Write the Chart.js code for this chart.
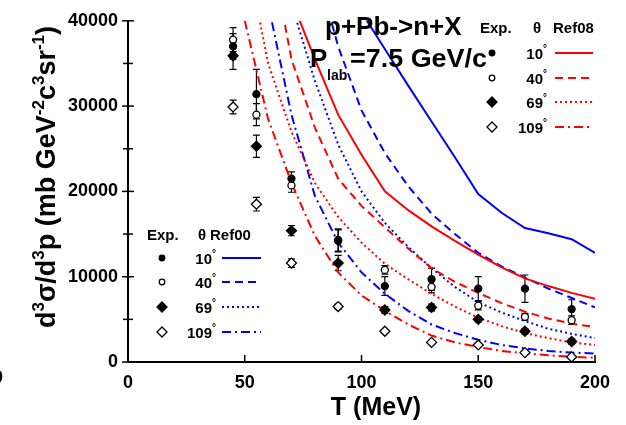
<!DOCTYPE html>
<html><head><meta charset="utf-8">
<script src="https://cdn.jsdelivr.net/npm/chart.js@4.4.0/dist/chart.umd.min.js"></script>
<style>html,body{margin:0;padding:0;background:#fff;overflow:hidden}#wrap{width:626px;height:425px;position:relative}</style>
</head><body><div id="wrap"><canvas id="c" width="626" height="425"></canvas></div>
<script>
// ---- data ----
const T_exp = [45,55,70,90,110,130,150,170,190];
const exp10  = [37000,31400,21500,14200,8900,9700,8600,8600,6200];
const err10  = [1500,2900,800,1300,1100,1300,1400,1600,1100];
const exp40  = [37800,29000,20700,14300,10800,8800,6600,5300,4900];
const err40  = [1400,1300,800,1300,500,700,500,400,500];
const exp69  = [35900,25300,15400,11600,6100,6400,5000,3600,2400];
const err69  = [1600,1300,600,900,400,400,300,300,300];
const exp109 = [29900,18500,11600,6500,3600,2300,2000,1100,600];
const err109 = [800,800,500,300,200,200,200,200,200];

const T_model = [50,60,70,80,90,100,110,120,130,140,150,160,170,180,190,200];
const ref08_10  = [null,null,42500,35500,29000,24300,20000,17800,15900,14200,12600,11100,9800,8900,8100,7400];
const ref08_40  = [null,50000,35500,27500,21500,18300,15800,13300,11000,9400,8100,6900,5900,5100,4500,4100];
const ref08_69  = [49000,35000,27000,21000,17000,14000,11500,9700,8000,6500,5200,4200,3400,2800,2300,2000];
const ref08_109 = [40000,28500,21000,14800,10500,7800,6000,4400,3100,2300,1750,1300,1000,800,600,500];
const ref00_10  = [null,null,null,null,null,41000,36700,32400,28200,24000,19700,17500,15700,15100,14400,12800];
const ref00_40  = [null,null,null,47000,37000,29500,24500,20600,17400,15000,12800,11200,9900,8600,7500,6400];
const ref00_69  = [null,null,42000,33000,25500,20000,16300,13500,11000,8800,7000,5800,4800,3900,3300,2800];
const ref00_109 = [null,42000,29000,19500,14000,10500,8000,6000,4400,3400,2600,2000,1600,1300,1100,1000];

const xTicks = [0,50,100,150,200];
const yTicks = [0,10000,20000,30000,40000];
const angleLabels = ['10','40','69','109'];

// ---- helpers ----
const RED='#ff0000', BLUE='#0000ff';
const DASH={solid:[],dashed:[8,5],dotted:[2,3],dashdot:[9,4,2,4]};
const styles=['solid','dashed','dotted','dashdot'];
const FONT='"Liberation Sans", Arial, sans-serif';
function pts(xs,ys){const o=[];xs.forEach((x,i)=>{if(ys[i]!==null)o.push({x:x,y:ys[i]});});return o;}
function marker(label,ys,style,r,fill){
  return {label:label,data:pts(T_exp,ys),showLine:false,pointStyle:style,pointRadius:r,
    pointBackgroundColor:fill?'#000':'#fff',pointBorderColor:'#000',pointBorderWidth:1.3};
}
function curve(label,ys,color,st){
  return {label:label,data:pts(T_model,ys),showLine:true,borderColor:color,borderWidth:2,
    borderDash:DASH[st],pointRadius:0,fill:false,tension:0};
}
const expSets=[[exp10,err10],[exp40,err40],[exp69,err69],[exp109,err109]];

function drawSymbol(ctx,i,x,y){
  ctx.save();ctx.lineWidth=1.3;ctx.strokeStyle='#000';ctx.fillStyle=(i%2===0)?'#000':'#fff';
  ctx.beginPath();
  if(i<2){ctx.arc(x,y,2.8,0,Math.PI*2);}
  else{const r=5;ctx.moveTo(x,y-r);ctx.lineTo(x+r,y);ctx.lineTo(x,y+r);ctx.lineTo(x-r,y);ctx.closePath();}
  ctx.fill();ctx.stroke();ctx.restore();
}
function rich(ctx,parts,x,y,size,align,ratio){
  ratio=ratio||0.62;
  const big='bold '+size+'px '+FONT, small='bold '+Math.round(size*ratio)+'px '+FONT;
  let w=0;parts.forEach(p=>{ctx.font=p[1]==='n'?big:small;w+=ctx.measureText(p[0]).width;});
  let cx=align==='center'?x-w/2:(align==='right'?x-w:x);
  parts.forEach(p=>{ctx.font=p[1]==='n'?big:small;
    const dy=p[1]==='sup'?-size*0.42:(p[1]==='sub'?size*0.3:0);
    ctx.fillText(p[0],cx,y+dy);cx+=ctx.measureText(p[0]).width;});
}

const deco={
  id:'deco',
  beforeDatasetsDraw(chart){
    const ctx=chart.ctx,xs=chart.scales.x,ys=chart.scales.y;
    ctx.save();ctx.strokeStyle='#000';ctx.lineWidth=1.2;
    expSets.forEach(([v,e])=>{
      T_exp.forEach((t,i)=>{
        const px=xs.getPixelForValue(t),y1=ys.getPixelForValue(v[i]+e[i]),y2=ys.getPixelForValue(v[i]-e[i]);
        ctx.beginPath();ctx.moveTo(px,y1);ctx.lineTo(px,y2);
        ctx.moveTo(px-3.5,y1);ctx.lineTo(px+3.5,y1);ctx.moveTo(px-3.5,y2);ctx.lineTo(px+3.5,y2);ctx.stroke();
      });
    });
    ctx.restore();
  },
  afterDraw(chart){
    const ctx=chart.ctx,xs=chart.scales.x,ys=chart.scales.y,a=chart.chartArea;
    ctx.save();
    // ticks
    ctx.strokeStyle='#000';ctx.lineWidth=1.5;
    for(let v=0;v<=40000;v+=5000){const py=ys.getPixelForValue(v);const L=(v%10000===0)?6:5;
      ctx.beginPath();ctx.moveTo(a.left-L,py);ctx.lineTo(a.left+L,py);ctx.stroke();}
    xTicks.forEach(t=>{const px=xs.getPixelForValue(t);ctx.beginPath();ctx.moveTo(px,a.bottom);ctx.lineTo(px,a.bottom-7);ctx.stroke();});
    ctx.fillStyle='#000';ctx.textBaseline='alphabetic';
    // stray 0
    ctx.font='bold 18px '+FONT;ctx.textAlign='left';ctx.fillText('0',-7,383);
    // axis titles
    rich(ctx,[['T (MeV)','n']],376,415,25,'center');
    ctx.save();ctx.translate(55,177);ctx.rotate(-Math.PI/2);
    rich(ctx,[['d','n'],['3','sup'],['σ','n'],['/d','n'],['3','sup'],['p (mb GeV','n'],['-2','sup'],['c','n'],['3','sup'],['sr','n'],['-1','sup'],[')','n']],0,0,27,'center',0.64);
    ctx.restore();
    // annotation
    ctx.font='bold 26px '+FONT;ctx.textAlign='left';ctx.fillText('p+Pb->n+X',325,35);
    ctx.fillText('P',310,67);
    ctx.save();ctx.font='bold 26px '+FONT;
    const s='=7.5 GeV/c';const w=ctx.measureText(s).width;ctx.translate(350,67);ctx.scale(137/w,1);ctx.fillText(s,0,0);ctx.restore();
    ctx.font='bold 14px '+FONT;ctx.fillText('lab',327,80);
    // legends
    function legend(cfg){
      ctx.font='bold 15px '+FONT;ctx.textAlign='left';
      ctx.fillText('Exp.',cfg.exp,cfg.hy);ctx.fillText('θ',cfg.th,cfg.hy);ctx.fillText(cfg.ref,cfg.refx,cfg.hy);
      cfg.rows.forEach((ry,i)=>{
        drawSymbol(ctx,i,cfg.sym,ry);
        ctx.font='bold 15px '+FONT;ctx.textAlign='right';ctx.fillText(angleLabels[i],cfg.lab,ry+6);
        ctx.font='bold 10px '+FONT;ctx.textAlign='left';ctx.fillText('°',cfg.lab,ry-1);
        ctx.save();ctx.strokeStyle=cfg.color;ctx.lineWidth=2;ctx.setLineDash(DASH[styles[i]]);
        ctx.beginPath();ctx.moveTo(cfg.l1,ry);ctx.lineTo(cfg.l2,ry);ctx.stroke();ctx.restore();
      });
    }
    legend({exp:480,th:533,refx:553,hy:33,ref:'Ref08',rows:[53,78,102,127],sym:492,lab:543,l1:555,l2:593,color:RED});
    legend({exp:147,th:198,refx:210,hy:240,ref:'Ref00',rows:[258,282,307,332],sym:162,lab:212,l1:222,l2:261,color:BLUE});
    ctx.restore();
  }
};

const tickFont={family:FONT,size:18,weight:'bold'};
new Chart(document.getElementById('c'),{
  type:'scatter',
  data:{datasets:[
    marker('Exp 10',exp10,'circle',3.5,true),
    marker('Exp 40',exp40,'circle',3.5,false),
    marker('Exp 69',exp69,'rectRot',5,true),
    marker('Exp 109',exp109,'rectRot',5,false),
    curve('Ref08 10',ref08_10,RED,'solid'),
    curve('Ref08 40',ref08_40,RED,'dashed'),
    curve('Ref08 69',ref08_69,RED,'dotted'),
    curve('Ref08 109',ref08_109,RED,'dashdot'),
    curve('Ref00 10',ref00_10,BLUE,'solid'),
    curve('Ref00 40',ref00_40,BLUE,'dashed'),
    curve('Ref00 69',ref00_69,BLUE,'dotted'),
    curve('Ref00 109',ref00_109,BLUE,'dashdot')
  ]},
  options:{
    responsive:false,animation:false,devicePixelRatio:1,
    layout:{padding:{top:17,right:31,left:0,bottom:0}},
    plugins:{legend:{display:false},tooltip:{enabled:false}},
    scales:{
      x:{type:'linear',min:0,max:200,
        afterBuildTicks:s=>{s.ticks=xTicks.map(v=>({value:v}));},
        afterFit:s=>{s.height=63;},
        ticks:{font:tickFont,color:'#000',padding:10},
        grid:{display:false,drawTicks:false},border:{display:true,color:'#000',width:2}},
      y:{type:'linear',min:0,max:40000,
        afterBuildTicks:s=>{s.ticks=yTicks.map(v=>({value:v}));},
        afterFit:s=>{s.width=128;},
        ticks:{font:tickFont,color:'#000',padding:10,callback:v=>String(v)},
        grid:{display:false,drawTicks:false},border:{display:true,color:'#000',width:2}}
    }
  },
  plugins:[deco]
});
</script></body></html>
